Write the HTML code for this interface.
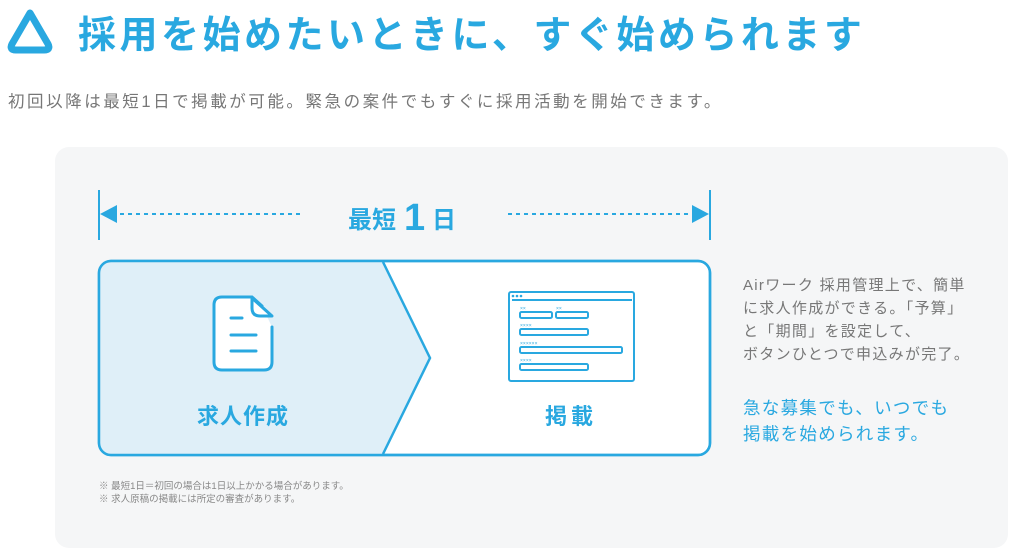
<!DOCTYPE html>
<html><head><meta charset="utf-8"><style>
html,body{margin:0;padding:0;background:#fff;}
svg{display:block;}
text{font-family:"Liberation Sans","Noto Sans CJK JP",sans-serif;}
</style></head><body>
<svg width="1024" height="559" viewBox="0 0 1024 559" xmlns="http://www.w3.org/2000/svg">
<path d="M30 13 L12 44 Q9 50 16 50 L44 50 Q51 50 48 44 Z" fill="none" stroke="#29a8e0" stroke-width="7" stroke-linejoin="round"/>
<text x="78" y="48" font-size="38" font-weight="bold" fill="#29a8e0" letter-spacing="3.5">採用を始めたいときに、すぐ始められます</text>
<text x="8" y="107" font-size="16.5" fill="#777" letter-spacing="2.55">初回以降は最短1日で掲載が可能。緊急の案件でもすぐに採用活動を開始できます。</text>
<rect x="55" y="147" width="953" height="401" rx="14" fill="#f5f6f7"/>
<line x1="99" y1="190" x2="99" y2="240" stroke="#29a8e0" stroke-width="2"/>
<line x1="710" y1="190" x2="710" y2="240" stroke="#29a8e0" stroke-width="2"/>
<polygon points="100,214 117,205 117,223" fill="#29a8e0"/>
<polygon points="709,214 692,205 692,223" fill="#29a8e0"/>
<line x1="120" y1="214" x2="302" y2="214" stroke="#29a8e0" stroke-width="2" stroke-dasharray="4,4"/>
<line x1="508" y1="214" x2="690" y2="214" stroke="#29a8e0" stroke-width="2" stroke-dasharray="4,4"/>
<text x="348" y="228" font-size="24" font-weight="bold" fill="#29a8e0">最短</text>
<text x="404" y="230" font-size="38" font-weight="bold" fill="#29a8e0">1</text>
<text x="432" y="228" font-size="24" font-weight="bold" fill="#29a8e0">日</text>
<rect x="99" y="261" width="611" height="194" rx="12" fill="#fff" stroke="#29a8e0" stroke-width="2.5"/>
<path d="M111 262 L383 262 L430 358 L383 454 L111 454 Q100 454 100 443 L100 273 Q100 262 111 262 Z" fill="#dfeff8"/>
<path d="M383 262 L430 358 L383 454" fill="none" stroke="#29a8e0" stroke-width="2.5"/>
<rect x="99" y="261" width="611" height="194" rx="12" fill="none" stroke="#29a8e0" stroke-width="2.5"/>
<path d="M262 306 L252 297 L222 297 Q214 297 214 305 L214 362 Q214 370 222 370 L264 370 Q272 370 272 362 L272 327" fill="#fff" stroke="#29a8e0" stroke-width="3" stroke-linecap="round"/>
<path d="M252 298 L252 308 Q252 316 260 316 L272 316 Z" fill="#fff" stroke="#29a8e0" stroke-width="3" stroke-linejoin="round"/>
<line x1="231" y1="318" x2="242" y2="318" stroke="#29a8e0" stroke-width="3" stroke-linecap="round"/>
<line x1="231" y1="335" x2="256" y2="335" stroke="#29a8e0" stroke-width="3" stroke-linecap="round"/>
<line x1="231" y1="351" x2="256" y2="351" stroke="#29a8e0" stroke-width="3" stroke-linecap="round"/>
<text x="243" y="424" font-size="22" font-weight="bold" fill="#29a8e0" text-anchor="middle" letter-spacing="1">求人作成</text>
<g fill="none" stroke="#29a8e0" stroke-width="2">
<rect x="509" y="292" width="125" height="89" rx="2"/>
<line x1="512" y1="300" x2="632" y2="300"/>
<rect x="520" y="312" width="32" height="6" rx="1.5"/>
<rect x="556" y="312" width="32" height="6" rx="1.5"/>
<rect x="520" y="329" width="68" height="6" rx="1.5"/>
<rect x="520" y="347" width="102" height="6" rx="1.5"/>
<rect x="520" y="364" width="68" height="6" rx="1.5"/>
</g>
<g fill="#29a8e0"><circle cx="513" cy="296" r="1.3"/><circle cx="517" cy="296" r="1.3"/><circle cx="521" cy="296" r="1.3"/></g>
<g font-size="5" fill="#29a8e0"><text x="520" y="310">××</text><text x="556" y="310">××</text><text x="520" y="327">××××</text><text x="520" y="345">××××××</text><text x="520" y="362">××××</text></g>
<text x="571" y="424" font-size="22" font-weight="bold" fill="#29a8e0" text-anchor="middle" letter-spacing="4">掲載</text>
<g font-size="15" fill="#777" letter-spacing="1.3">
<text x="743" y="290">Airワーク 採用管理上で、簡単</text>
<text x="743" y="313">に求人作成ができる。「予算」</text>
<text x="743" y="336">と「期間」を設定して、</text>
<text x="743" y="359">ボタンひとつで申込みが完了。</text>
</g>
<g font-size="17.5" fill="#29a8e0" letter-spacing="1.3">
<text x="743" y="414">急な募集でも、いつでも</text>
<text x="743" y="440">掲載を始められます。</text>
</g>
<g font-size="9.5" fill="#888">
<text x="99" y="489">※ 最短1日＝初回の場合は1日以上かかる場合があります。</text>
<text x="99" y="502">※ 求人原稿の掲載には所定の審査があります。</text>
</g>
</svg>
</body></html>
